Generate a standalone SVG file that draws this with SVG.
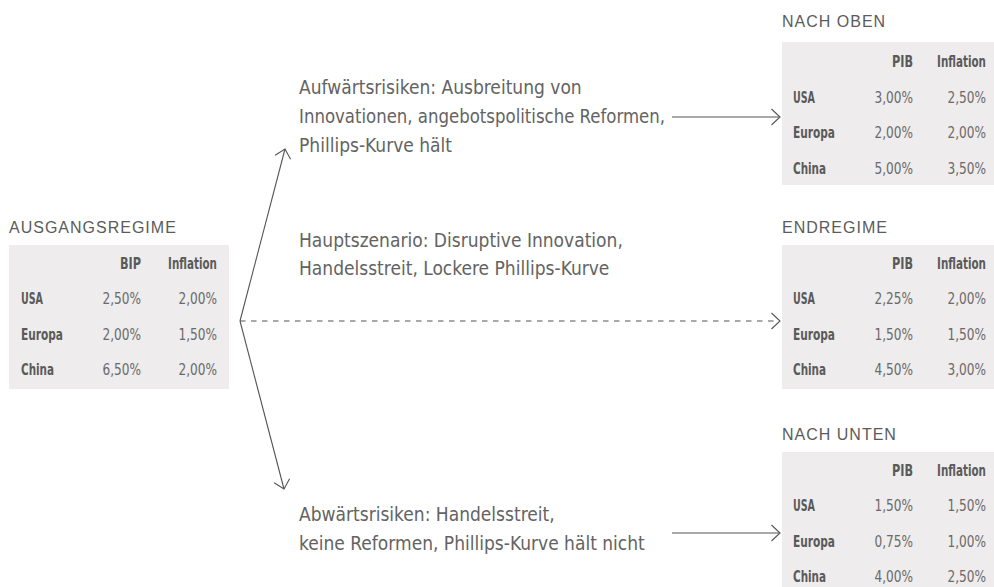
<svg xmlns="http://www.w3.org/2000/svg" width="994" height="587" viewBox="0 0 994 587">
<defs>
<style>
.title{font-family:"Liberation Sans",Arial,sans-serif;font-size:16px;fill:#5b5b5b;letter-spacing:1px}
.box{fill:#eeecec}
.th{font-family:"DejaVu Sans Condensed","Liberation Sans",sans-serif;font-size:16px;font-weight:bold;fill:#5a5a5a;text-anchor:end}
.rl{font-family:"DejaVu Sans Condensed","Liberation Sans",sans-serif;font-size:16px;font-weight:bold;fill:#5a5a5a}
.num{font-family:"DejaVu Sans Condensed","Liberation Sans",sans-serif;font-size:16px;fill:#6a6a6a;text-anchor:end}
.desc{font-family:"DejaVu Sans Condensed","Liberation Sans",sans-serif;font-size:19px;fill:#636363}
.ln{stroke:#555;stroke-width:1.1;fill:none}
</style>
<marker id="ah" viewBox="0 0 12 20" refX="10.5" refY="10" markerWidth="12" markerHeight="20" markerUnits="userSpaceOnUse" orient="auto">
<path d="M2,2 L10.5,10 L2,18" fill="none" stroke="#555" stroke-width="1.1"/>
</marker>
</defs>

<g id="connectors">
<line class="ln" x1="240" y1="321" x2="285" y2="149" marker-end="url(#ah)"/>
<line class="ln" x1="240" y1="321" x2="284" y2="489" marker-end="url(#ah)"/>
<line class="ln" x1="240" y1="321" x2="780" y2="321" stroke-dasharray="5.5,5.5" marker-end="url(#ah)"/>
<line class="ln" x1="672" y1="117" x2="780" y2="117" marker-end="url(#ah)"/>
<line class="ln" x1="672" y1="533" x2="780" y2="533" marker-end="url(#ah)"/>
</g>

<g id="ausgangsregime">
<text class="title" x="9" y="233">AUSGANGSREGIME</text>
<rect class="box" x="9" y="245" width="220" height="144"/>
<text class="th" x="141" y="269" textLength="21" lengthAdjust="spacingAndGlyphs">BIP</text>
<text class="th" transform="translate(217,269) scale(0.72,1)" x="0" y="0">Inflation</text>
<text class="rl" x="21" y="304" textLength="22" lengthAdjust="spacingAndGlyphs">USA</text>
<text class="num" x="141" y="304" textLength="38.5" lengthAdjust="spacingAndGlyphs">2,50%</text>
<text class="num" x="217" y="304" textLength="38.5" lengthAdjust="spacingAndGlyphs">2,00%</text>
<text class="rl" x="21" y="340" textLength="42" lengthAdjust="spacingAndGlyphs">Europa</text>
<text class="num" x="141" y="340" textLength="38.5" lengthAdjust="spacingAndGlyphs">2,00%</text>
<text class="num" x="217" y="340" textLength="38.5" lengthAdjust="spacingAndGlyphs">1,50%</text>
<text class="rl" x="21" y="375" textLength="33" lengthAdjust="spacingAndGlyphs">China</text>
<text class="num" x="141" y="375" textLength="38.5" lengthAdjust="spacingAndGlyphs">6,50%</text>
<text class="num" x="217" y="375" textLength="38.5" lengthAdjust="spacingAndGlyphs">2,00%</text>
</g>

<g id="nach-oben">
<text class="title" x="782" y="27">NACH OBEN</text>
<rect class="box" x="782" y="42" width="212" height="143"/>
<text class="th" x="913" y="67" textLength="21" lengthAdjust="spacingAndGlyphs">PIB</text>
<text class="th" transform="translate(986,67) scale(0.72,1)" x="0" y="0">Inflation</text>
<text class="rl" x="793" y="103" textLength="22" lengthAdjust="spacingAndGlyphs">USA</text>
<text class="num" x="913" y="103" textLength="38.5" lengthAdjust="spacingAndGlyphs">3,00%</text>
<text class="num" x="986" y="103" textLength="38.5" lengthAdjust="spacingAndGlyphs">2,50%</text>
<text class="rl" x="793" y="138" textLength="42" lengthAdjust="spacingAndGlyphs">Europa</text>
<text class="num" x="913" y="138" textLength="38.5" lengthAdjust="spacingAndGlyphs">2,00%</text>
<text class="num" x="986" y="138" textLength="38.5" lengthAdjust="spacingAndGlyphs">2,00%</text>
<text class="rl" x="793" y="174" textLength="33" lengthAdjust="spacingAndGlyphs">China</text>
<text class="num" x="913" y="174" textLength="38.5" lengthAdjust="spacingAndGlyphs">5,00%</text>
<text class="num" x="986" y="174" textLength="38.5" lengthAdjust="spacingAndGlyphs">3,50%</text>
</g>

<g id="endregime">
<text class="title" x="782" y="233">ENDREGIME</text>
<rect class="box" x="782" y="245" width="212" height="144"/>
<text class="th" x="913" y="269" textLength="21" lengthAdjust="spacingAndGlyphs">PIB</text>
<text class="th" transform="translate(986,269) scale(0.72,1)" x="0" y="0">Inflation</text>
<text class="rl" x="793" y="304" textLength="22" lengthAdjust="spacingAndGlyphs">USA</text>
<text class="num" x="913" y="304" textLength="38.5" lengthAdjust="spacingAndGlyphs">2,25%</text>
<text class="num" x="986" y="304" textLength="38.5" lengthAdjust="spacingAndGlyphs">2,00%</text>
<text class="rl" x="793" y="340" textLength="42" lengthAdjust="spacingAndGlyphs">Europa</text>
<text class="num" x="913" y="340" textLength="38.5" lengthAdjust="spacingAndGlyphs">1,50%</text>
<text class="num" x="986" y="340" textLength="38.5" lengthAdjust="spacingAndGlyphs">1,50%</text>
<text class="rl" x="793" y="375" textLength="33" lengthAdjust="spacingAndGlyphs">China</text>
<text class="num" x="913" y="375" textLength="38.5" lengthAdjust="spacingAndGlyphs">4,50%</text>
<text class="num" x="986" y="375" textLength="38.5" lengthAdjust="spacingAndGlyphs">3,00%</text>
</g>

<g id="nach-unten">
<text class="title" x="782" y="440">NACH UNTEN</text>
<rect class="box" x="782" y="452" width="212" height="135"/>
<text class="th" x="913" y="476" textLength="21" lengthAdjust="spacingAndGlyphs">PIB</text>
<text class="th" transform="translate(986,476) scale(0.72,1)" x="0" y="0">Inflation</text>
<text class="rl" x="793" y="511" textLength="22" lengthAdjust="spacingAndGlyphs">USA</text>
<text class="num" x="913" y="511" textLength="38.5" lengthAdjust="spacingAndGlyphs">1,50%</text>
<text class="num" x="986" y="511" textLength="38.5" lengthAdjust="spacingAndGlyphs">1,50%</text>
<text class="rl" x="793" y="547" textLength="42" lengthAdjust="spacingAndGlyphs">Europa</text>
<text class="num" x="913" y="547" textLength="38.5" lengthAdjust="spacingAndGlyphs">0,75%</text>
<text class="num" x="986" y="547" textLength="38.5" lengthAdjust="spacingAndGlyphs">1,00%</text>
<text class="rl" x="793" y="582" textLength="33" lengthAdjust="spacingAndGlyphs">China</text>
<text class="num" x="913" y="582" textLength="38.5" lengthAdjust="spacingAndGlyphs">4,00%</text>
<text class="num" x="986" y="582" textLength="38.5" lengthAdjust="spacingAndGlyphs">2,50%</text>
</g>

<g id="upside">
<text class="desc" x="299" y="94">Aufwärtsrisiken: Ausbreitung von</text>
<text class="desc" x="299" y="123" textLength="366" lengthAdjust="spacingAndGlyphs">Innovationen, angebotspolitische Reformen,</text>
<text class="desc" x="299" y="152">Phillips-Kurve hält</text>
</g>
<g id="main">
<text class="desc" x="299" y="247">Hauptszenario: Disruptive Innovation,</text>
<text class="desc" x="299" y="275">Handelsstreit, Lockere Phillips-Kurve</text>
</g>
<g id="downside">
<text class="desc" x="299" y="521">Abwärtsrisiken: Handelsstreit,</text>
<text class="desc" x="299" y="550">keine Reformen, Phillips-Kurve hält nicht</text>
</g>
</svg>
